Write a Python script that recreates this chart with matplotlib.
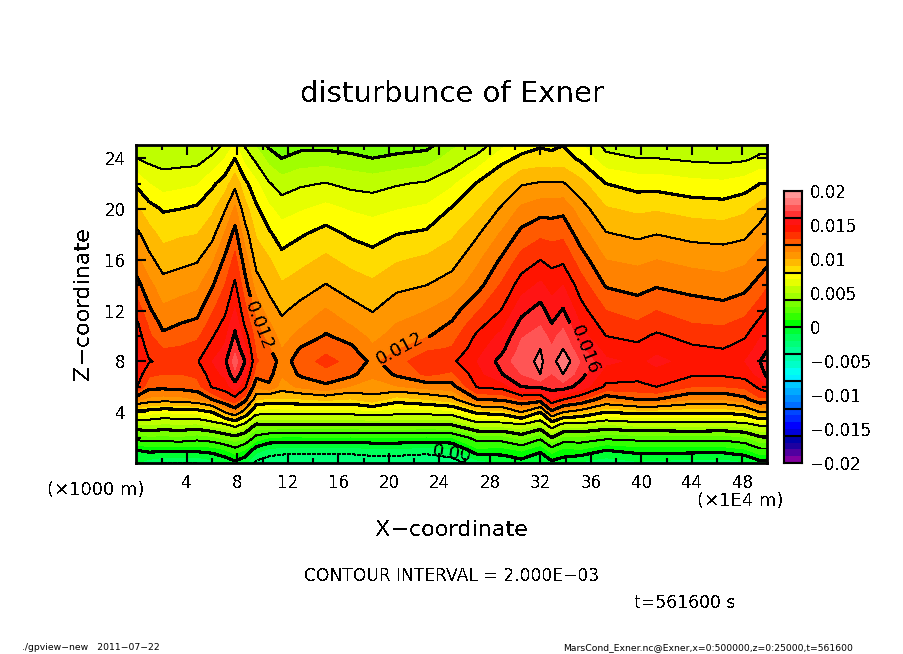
import matplotlib
matplotlib.use('Agg')
import matplotlib.pyplot as plt
from matplotlib.colors import BoundaryNorm, ListedColormap
import numpy as np

plt.rcParams['text.antialiased'] = False

# horizontal position of each profile (x1E4 m) and the heights of its samples (x1000 m)
x_coord = [0, 1, 2.1, 3.5, 4.8, 6, 7, 7.8, 8.6, 9.5, 10.5, 11.5, 13, 15, 17, 18.7, 20.6, 23, 25,
           27, 29, 30.5, 32, 32.9, 33.8, 35.2, 37.2, 39.7, 41.2, 44, 46.5, 48.2, 49.4, 50]
z_coord = [0, 1, 2, 3, 4, 5, 6, 7, 8, 9, 10, 11, 12, 14, 16, 18, 20, 22, 24, 25]

# one line per x position, in units of 1E-3
exner_profiles = [
    [-1, 0, 2.5, 4.9, 7.7, 11.3, 14.1, 14.7, 15.4, 15, 14.6, 14.2, 13.7, 12.4, 11.3, 10.3, 9.2, 7.8, 6, 5.3],
    [-1.5, .25, 2.75, 5, 7.4, 10.7, 12.3, 13.2, 14.1, 13.6, 13.2, 12.8, 12.2, 11.3, 10.3, 9.4, 8.4, 7, 5.7, 5.2],
    [-2, .25, 2.7, 4.8, 7.1, 10.5, 12.3, 13, 13.7, 13, 12.2, 11.7, 11.2, 10.4, 9.5, 8.7, 7.9, 6.5, 5.6, 5.1],
    [-2, .3, 2.8, 4.9, 7.2, 10.6, 12.4, 13, 13.6, 13.1, 12.6, 12, 11.5, 10.6, 9.7, 8.9, 8, 6.7, 5.6, 5.1],
    [-2, .25, 2.5, 4.8, 7.3, 11, 12.6, 13.2, 13.9, 13.4, 12.8, 12.2, 11.7, 10.8, 9.9, 9, 8.2, 6.9, 5.6, 5.2],
    [-1.5, .45, 2.75, 5.3, 8, 12, 14.1, 14.6, 15, 14.4, 13.9, 13.4, 12.9, 11.9, 10.8, 9.7, 8.8, 7.8, 6.2, 5.5],
    [-.8, .9, 3.3, 5.7, 10, 13, 14.5, 15.2, 15.8, 15.2, 14.7, 14.3, 13.8, 13, 12.2, 11.1, 9.9, 8.5, 7, 6.2],
    [-.3, 1.6, 3.6, 6.5, 11.2, 13.6, 15.5, 16.8, 17.4, 16.8, 16.2, 15.7, 15.1, 14.2, 13.3, 12.4, 11.2, 9.7, 8, 7.2],
    [-.8, .9, 3.1, 5.5, 9.2, 12.4, 14.2, 15.2, 16, 15.2, 14.5, 13.8, 13.3, 12.4, 11.5, 10.5, 9.4, 8.3, 6.6, 5.9],
    [-2.3, -.6, 1.6, 3.8, 6.5, 9.1, 11.2, 12.4, 13.1, 12.8, 12.5, 12.1, 11.7, 10.5, 9.6, 8.9, 8.2, 7.2, 5.7, 4.9],
    [-2.8, -1.3, 1, 4, 6.4, 8.7, 11.8, 12.4, 12.6, 12.1, 11.6, 11.1, 10.5, 9.7, 9.1, 8.2, 7.2, 6.1, 4.6, 3.8],
    [-2.9, -1.55, .85, 4, 6.4, 8.8, 10.6, 11.1, 11.6, 11, 10.6, 10.2, 9.85, 9.1, 8.35, 7.5, 6.6, 5.5, 4, 3.4],
    [-3, -1.55, .85, 4, 6.4, 8.9, 11.2, 12.2, 12.4, 12.1, 11.3, 10.8, 10.35, 9.5, 8.7, 7.9, 6.9, 5.85, 4.4, 3.7],
    [-3, -1.6, .9, 4, 6.4, 9.2, 11.8, 12.6, 13.4, 12.7, 12.1, 11.6, 11.1, 10.05, 9.2, 8.4, 7.3, 6.05, 4.5, 3.7],
    [-3, -1.55, .85, 4, 6.4, 8.9, 10.9, 12.3, 12.6, 12.2, 11.6, 10.9, 10.4, 9.5, 8.7, 7.85, 6.9, 5.7, 4.3, 3.5],
    [-2.9, -1.3, 1, 4, 6.7, 9.6, 10.6, 11.2, 11.8, 11.2, 10.7, 10.3, 9.95, 9.2, 8.4, 7.6, 6.7, 5.6, 4, 3.4],
    [-2.9, -1.3, 1, 4, 6.4, 8.5, 10.9, 12.2, 12.5, 11.9, 11.4, 11, 10.6, 9.75, 8.9, 8, 6.95, 5.9, 4.2, 3.6],
    [-3, -1.55, .85, 4, 6.4, 9, 11.4, 13.2, 13.9, 12.8, 11.9, 11.4, 11, 10, 9.2, 8.2, 7.2, 6.15, 4.5, 3.7],
    [-2.5, -1.3, 1, 4, 6.6, 9.6, 11.6, 12.8, 13.8, 13.1, 12.6, 12.1, 11.6, 10.5, 9.6, 8.85, 8.1, 6.8, 5.4, 4.8],
    [-1.5, .7, 2.5, 5.4, 8.3, 12, 14.1, 14.6, 15, 14.6, 14.2, 13.6, 12.9, 11.6, 10.8, 9.9, 8.9, 8.1, 6.3, 5.4],
    [-1, .6, 2.6, 5.4, 8.6, 12.2, 14.4, 16, 16.4, 15.8, 15.3, 14.7, 14.1, 13.2, 12.2, 11.2, 10.2, 9, 7.7, 6.8],
    [-.5, 1.1, 3.4, 5.8, 10, 13.1, 16, 17, 17.7, 17.3, 16.9, 16.3, 15.7, 14.5, 13.4, 12.3, 11.2, 9.9, 8.2, 7.6],
    [-1, .2, 2.3, 4.9, 8, 12.8, 16.2, 18, 18.15, 18, 17.4, 16.9, 16.4, 15.2, 14, 12.8, 11.6, 10.1, 8.4, 7.9],
    [-.3, 1.4, 4, 6.8, 11.6, 15, 16.4, 16.9, 17.5, 17.1, 16.7, 16, 15.5, 14.6, 13.7, 12.7, 11.6, 10.1, 8.3, 7.8],
    [-.6, .7, 2.75, 5.5, 10, 14, 16.5, 18, 18.8, 18, 17.4, 16.7, 16.1, 15, 13.8, 12.8, 11.7, 10.1, 8.4, 8],
    [-1.2, .85, 2.75, 5.5, 9.3, 13.2, 15.6, 16.4, 16.9, 16.2, 15.4, 14.9, 14.4, 13.5, 12.5, 11.5, 10.5, 9.3, 7.8, 7.2],
    [-1.7, 0, 2.3, 4.9, 8, 11.2, 13.8, 14.5, 15.2, 14.6, 14, 13.5, 13, 11.9, 11, 10.1, 9.1, 8, 6.3, 5.7],
    [-1.2, .4, 2.5, 5.3, 8.4, 12, 13.7, 14.4, 14.8, 14.3, 13.7, 13.1, 12.6, 11.6, 10.8, 9.8, 8.8, 7.6, 6, 5.5],
    [-1.4, .45, 2.5, 5.3, 8.4, 12, 14, 14.7, 15.2, 14.8, 14.2, 13.5, 13, 11.9, 11, 10, 8.9, 7.6, 6, 5.5],
    [-1.5, .4, 2.6, 5.4, 8.2, 11, 13, 14.2, 14.7, 14.2, 13.6, 13, 12.6, 11.6, 10.7, 9.7, 8.6, 7.3, 5.8, 5.4],
    [-1.6, .4, 2.5, 5.3, 8.2, 11, 13, 14.2, 14.6, 14, 13.4, 12.9, 12.4, 11.4, 10.6, 9.6, 8.5, 7.2, 5.7, 5.3],
    [-1.2, .8, 2.9, 5.5, 8.7, 11.7, 13.2, 14.5, 15, 14.4, 13.9, 13.3, 12.7, 11.7, 10.8, 9.8, 8.8, 7.5, 5.8, 5.5],
    [-.4, 1.7, 3.8, 6.2, 10, 12.8, 14.3, 15.3, 16, 15.4, 14.9, 14.3, 13.6, 12.4, 11.4, 10.5, 9.4, 8, 6.2, 5.6],
    [-.4, 1.7, 3.8, 6.2, 10, 12.5, 15, 16.4, 16.9, 15.9, 15.3, 14.8, 14.2, 12.9, 11.7, 10.8, 9.9, 8, 6.2, 5.6],
]

# tone levels and tone colours, bottom of the colour bar first
tone_levels = list(range(-20, 21))
block_edges = list(range(-20, 21, 4))
thin_levels = [-2, 2, 6, 10, 14, 18]
thick_levels = [0, 4, 8]
tone_colors = [
    '#8200a0', '#5000a0', '#1e00a0', '#0000aa',
    '#0000dc', '#0000ff', '#0028ff', '#0046ff',
    '#006eff', '#008cff', '#00aaff', '#00c8ff',
    '#00f0ff', '#00fff0', '#00ffc8', '#00ffaa',
    '#00ff96', '#00ff78', '#00ff5a', '#00ff32',
    '#00ff00', '#32ff00', '#5aff00', '#78ff00',
    '#a0ff00', '#beff00', '#e6ff00', '#ffff00',
    '#ffdc00', '#ffb900', '#ff9600', '#ff8200',
    '#ff5a00', '#ff3200', '#ff1400', '#ff1414',
    '#ff3232', '#ff5555', '#ff7878', '#ff9696',
]

x_ticks_major = [4, 8, 12, 16, 20, 24, 28, 32, 36, 40, 44, 48]
x_ticks_minor = [2, 6, 10, 14, 18, 22, 26, 30, 34, 38, 42, 46, 50]
z_ticks_major = [4, 8, 12, 16, 20, 24]
z_ticks_minor = [2, 6, 10, 14, 18, 22]
cbar_ticks = [-20, -15, -10, -5, 0, 5, 10, 15, 20]
cbar_labels = ['\u22120.02', '\u22120.015', '\u22120.01', '\u22120.005', '0', '0.005', '0.01', '0.015', '0.02']

exner = np.array(exner_profiles).T

fig = plt.figure(figsize=(9.04, 6.54), dpi=100)
ax = fig.add_axes([136.5 / 904, 191 / 654, 631 / 904, 317.5 / 654])

ax.contourf(x_coord, z_coord, exner, levels=tone_levels, colors=tone_colors, antialiased=False)
ax.contour(x_coord, z_coord, exner, levels=thin_levels, colors='k', linewidths=0.7, antialiased=False)
ax.contour(x_coord, z_coord, exner, levels=thick_levels, colors='k', linewidths=1.5, antialiased=False)

# the labelled contours get their own sets, clabel picks the level by index
line_012 = ax.contour(x_coord, z_coord, exner, levels=[12], colors='k', linewidths=1.5, antialiased=False)
line_016 = ax.contour(x_coord, z_coord, exner, levels=[16], colors='k', linewidths=1.5, antialiased=False)
ax.clabel(line_012, manual=[(9.9, 10.9), (20.9, 9.0)], fmt={12: '0.012'}, fontsize=13)
ax.clabel(line_016, manual=[(35.2, 8.7)], fmt={16: '0.016'}, fontsize=13)
ax.text(25.0, 0.75, '0.00', fontsize=13, rotation=-8, ha='center', va='center')

ax.set_xlim(0, 50)
ax.set_ylim(0, 25)
ax.set_xticks(x_ticks_major)
ax.set_xticks(x_ticks_minor, minor=True)
ax.set_yticks(z_ticks_major)
ax.set_yticks(z_ticks_minor, minor=True)
ax.tick_params(which='major', direction='in', length=7, width=1.5, top=True, right=True, labelsize=12, pad=8)
ax.tick_params(which='minor', direction='in', length=3.5, width=1.5, top=True, right=True)
for spine in ax.spines.values():
    spine.set_linewidth(2)

# colour bar
cax = fig.add_axes([784 / 904, 191 / 654, 18 / 904, 272 / 654])
cax.pcolormesh([0, 1], tone_levels, np.array(tone_levels[:-1]).reshape(-1, 1) + 0.5,
               cmap=ListedColormap(tone_colors), norm=BoundaryNorm(tone_levels, len(tone_colors)),
               antialiased=False)
cax.hlines(block_edges, 0, 1, colors='k', linewidth=1.5)
cax.set_xlim(0, 1)
cax.set_ylim(-20, 20)
cax.set_xticks([])
cax.yaxis.tick_right()
cax.set_yticks(cbar_ticks)
cax.set_yticklabels(cbar_labels, fontsize=12)
cax.tick_params(axis='y', length=0, pad=6)
for spine in cax.spines.values():
    spine.set_linewidth(1.5)

# labels and notes, placed in pixels of the figure
def note(px, py, s, **kwargs):
    fig.text(px / 904, 1 - py / 654, s, va='center', **kwargs)

note(452, 94, 'disturbunce of Exner', fontsize=21, ha='center')
note(452, 530, 'X\u2212coordinate', fontsize=16, ha='center')
note(83, 304, 'Z\u2212coordinate', fontsize=16, ha='center', rotation=90)
note(47, 490, '(\u00d71000 m)', fontsize=13, ha='left')
note(697, 501, '(\u00d71E4 m)', fontsize=13, ha='left')
note(452, 576, 'CONTOUR INTERVAL = 2.000E\u221203', fontsize=12.3, ha='center')
note(634, 603, 't=561600 s', fontsize=12.3, ha='left')
note(22, 648, './gpview\u2212new   2011\u221207\u221222', fontsize=6.7, ha='left', antialiased=True)
note(563, 648, 'MarsCond_Exner.nc@Exner,x=0:500000,z=0:25000,t=561600', fontsize=6.7, ha='left', antialiased=True)

plt.savefig('out.png', dpi=100)
